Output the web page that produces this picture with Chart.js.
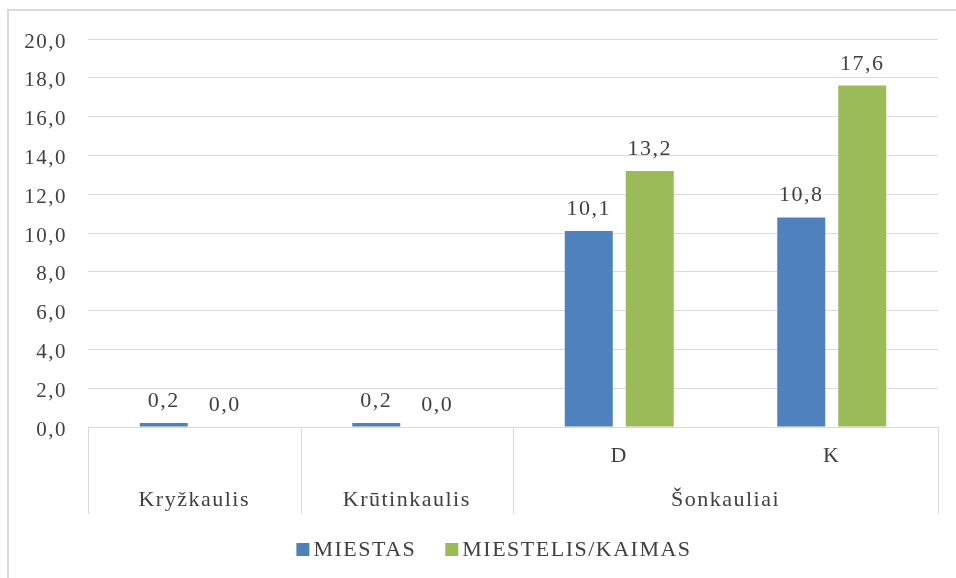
<!DOCTYPE html>
<html>
<head>
<meta charset="utf-8">
<script src="https://cdn.jsdelivr.net/npm/chart.js@4"></script>
<style>
  body { margin: 0; background: #fff; }
  canvas { display: block; }
</style>
</head>
<body>
<canvas id="chart" width="956" height="578"></canvas>
<script>
// lower row of the category axis, and the groups it sits under
const SUB_LABELS = ['', '', 'D', 'K'];
const GROUP_LABELS = ['Kryžkaulis', 'Krūtinkaulis', 'Šonkauliai'];
const GROUP_SPANS = [1, 1, 2];

const SERIES_NAMES = ['MIESTAS', 'MIESTELIS/KAIMAS'];
const MIESTAS = [0.2, 0.2, 10.1, 10.8];
const KAIMAS = [0.0, 0.0, 13.2, 17.6];

const Y_MIN = 0;
const Y_MAX = 20;
const Y_STEP = 2;

const FONT = "'Liberation Serif', 'DejaVu Serif', serif";
const TICK_SIZE = 21;
const LABEL_SIZE = 22;
const TEXT = '#404040';
const LINE = '#d9d9d9';
const COLORS = ['#4f81bd', '#9bbb59'];

function fmt(v) {
    return v.toFixed(1).replace('.', ',');
}

// canvas letter spacing gets reset whenever the canvas is resized
const spacing = {
    id: 'spacing',
    beforeLayout(chart) { chart.ctx.letterSpacing = '1.5px'; },
    beforeDraw(chart) { chart.ctx.letterSpacing = '1.5px'; }
};

const extras = {
    id: 'extras',

    beforeDraw(chart) {
        const ctx = chart.ctx;
        ctx.save();
        ctx.fillStyle = LINE;
        ctx.fillRect(7, 9, 2, chart.height);
        ctx.fillRect(7, 9, chart.width, 2);
        ctx.restore();
    },

    afterDraw(chart) {
        const ctx = chart.ctx;
        const x = chart.scales.x;
        const area = chart.chartArea;

        ctx.save();
        ctx.font = LABEL_SIZE + 'px ' + FONT;
        ctx.fillStyle = TEXT;
        ctx.textAlign = 'center';

        // value labels above the bars
        ctx.textBaseline = 'alphabetic';
        chart.data.datasets.forEach((ds, i) => {
            chart.getDatasetMeta(i).data.forEach((bar, j) => {
                ctx.fillText(fmt(ds.data[j]), bar.x, bar.y - 16);
            });
        });

        // two-row category axis
        const edge = i => {
            if (i <= 0) return area.left;
            if (i >= SUB_LABELS.length) return area.right;
            return (x.getPixelForValue(i - 1) + x.getPixelForValue(i)) / 2;
        };

        ctx.textBaseline = 'middle';
        SUB_LABELS.forEach((s, i) => {
            ctx.fillText(s, x.getPixelForValue(i), area.bottom + 29);
        });

        ctx.strokeStyle = LINE;
        ctx.lineWidth = 1;
        let start = 0;
        const bounds = [0];
        GROUP_LABELS.forEach((g, k) => {
            const end = start + GROUP_SPANS[k];
            ctx.fillText(g, (edge(start) + edge(end)) / 2, area.bottom + 73);
            bounds.push(end);
            start = end;
        });
        bounds.forEach(b => {
            const px = Math.round(edge(b)) + 0.5;
            ctx.beginPath();
            ctx.moveTo(px, area.bottom);
            ctx.lineTo(px, area.bottom + 87);
            ctx.stroke();
        });

        // legend
        const box = 13;
        const gap = 29;
        const widths = chart.data.datasets.map(ds => box + 4 + ctx.measureText(ds.label).width);
        const total = widths.reduce((a, b) => a + b, 0) + gap * (widths.length - 1);
        let lx = 494 - total / 2;
        const ly = 550;
        ctx.textAlign = 'left';
        chart.data.datasets.forEach((ds, i) => {
            ctx.fillStyle = ds.backgroundColor;
            ctx.fillRect(lx, ly - 7, box, box);
            ctx.fillStyle = TEXT;
            ctx.fillText(ds.label, lx + box + 4, ly);
            lx += widths[i] + gap;
        });

        ctx.restore();
    }
};

new Chart(document.getElementById('chart'), {
    type: 'bar',
    data: {
        labels: SUB_LABELS,
        datasets: [
            { label: SERIES_NAMES[0], data: MIESTAS, backgroundColor: COLORS[0] },
            { label: SERIES_NAMES[1], data: KAIMAS, backgroundColor: COLORS[1] }
        ]
    },
    options: {
        responsive: false,
        animation: false,
        categoryPercentage: 0.574,
        barPercentage: 0.787,
        layout: {
            padding: { top: 39, right: 18, bottom: 151, left: 0 }
        },
        plugins: {
            legend: { display: false },
            tooltip: { enabled: false }
        },
        scales: {
            x: {
                display: false
            },
            y: {
                min: Y_MIN,
                max: Y_MAX,
                afterFit(scale) { scale.width = 88; },
                ticks: {
                    stepSize: Y_STEP,
                    padding: 21,
                    labelOffset: 3,
                    color: TEXT,
                    font: { family: FONT, size: TICK_SIZE },
                    callback: v => fmt(v)
                },
                grid: {
                    color: LINE,
                    lineWidth: 1,
                    drawTicks: false
                },
                border: { display: false }
            }
        }
    },
    plugins: [spacing, extras]
});
</script>
</body>
</html>
